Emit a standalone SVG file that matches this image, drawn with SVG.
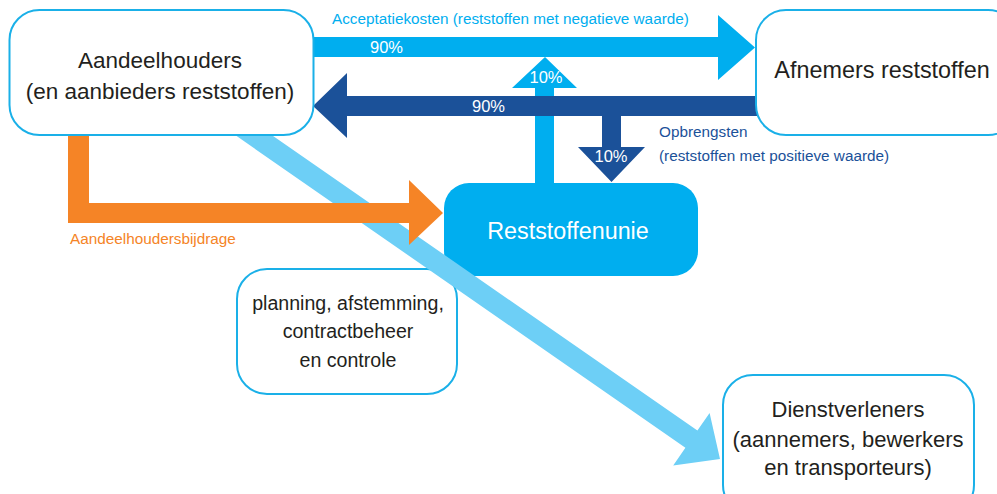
<svg xmlns="http://www.w3.org/2000/svg" width="997" height="494" viewBox="0 0 997 494">
<style>
.box{fill:#fff;stroke:#1ab0e8;stroke-width:2}
.t{font-family:"Liberation Sans",Arial,sans-serif;fill:#231f20;text-anchor:middle}
.big{font-size:22px}
.lbl{font-family:"Liberation Sans",Arial,sans-serif;font-size:15.3px}
.pct{font-family:"Liberation Sans",Arial,sans-serif;font-size:16.5px;fill:#fff}
.w{fill:#fff}
.lb{fill:#00aeef}
.db{fill:#1b5199}
.or{fill:#f58426}
.band{fill:#6dcff6}
</style>
<rect width="997" height="494" fill="#fff"/>
<g id="planning">
<rect class="box" x="237" y="269" width="220" height="125" rx="30"/>
<text class="t" x="348" y="310" font-size="19.6">planning, afstemming,</text>
<text class="t" x="348" y="338" font-size="19.6">contractbeheer</text>
<text class="t" x="348" y="367" font-size="19.6">en controle</text>
</g>
<g id="reststoffenunie">
<rect x="444" y="183" width="254" height="93" rx="25" fill="#00aeef"/>
<text class="t" x="568" y="239" font-size="23.3" style="fill:#fff">Reststoffenunie</text>
</g>
<g id="connectors">
<polygon class="lb" points="535,190 535,88 512,88 545,57 577,88 554,88 554,190"/>
<polygon class="lb" points="305,37 718,37 718,15 755,47.5 718,80 718,57 305,57"/>
<polygon class="db" points="765,96 347,96 347,73 313,106 347,138 347,116 765,116"/>
<polygon class="db" points="602,110 602,147 578,147 611.5,182 645,147 621,147 621,110"/>
<polygon class="band" points="245,116.4 697.4,430.6 709.6,412.9 720,459 673.2,465.5 685.4,447.8 233,133.6"/>
<polygon class="or" points="68,125 68,223 409,223 409,245 443,213 409,180 409,203 89,203 89,125"/>
<text class="pct" x="370" y="53">90%</text>
<text class="pct" x="472" y="112">90%</text>
<text class="pct" x="546" y="83" text-anchor="middle">10%</text>
<text class="pct" x="611" y="162" text-anchor="middle">10%</text>
<text class="lbl lb" x="332" y="24">Acceptatiekosten (reststoffen met negatieve waarde)</text>
<text class="lbl db" x="659" y="137">Opbrengsten</text>
<text class="lbl db" x="659" y="161">(reststoffen met positieve waarde)</text>
<text class="lbl or" x="70" y="244">Aandeelhoudersbijdrage</text>
</g>
<g id="aandeelhouders">
<rect class="box" x="9.5" y="10" width="304" height="125" rx="30"/>
<text class="t" x="160" y="68" font-size="22.5">Aandeelhouders</text>
<text class="t" x="160" y="99" font-size="22.5">(en aanbieders reststoffen)</text>
</g>
<g id="afnemers">
<rect class="box" x="756" y="10" width="262" height="125" rx="30"/>
<text class="t" x="882" y="78" font-size="23.4">Afnemers reststoffen</text>
</g>
<g id="dienstverleners">
<rect class="box" x="723" y="375" width="251" height="140" rx="30"/>
<text class="t big" x="848" y="417">Dienstverleners</text>
<text class="t big" x="848" y="447">(aannemers, bewerkers</text>
<text class="t big" x="848" y="475">en transporteurs)</text>
</g>
</svg>
